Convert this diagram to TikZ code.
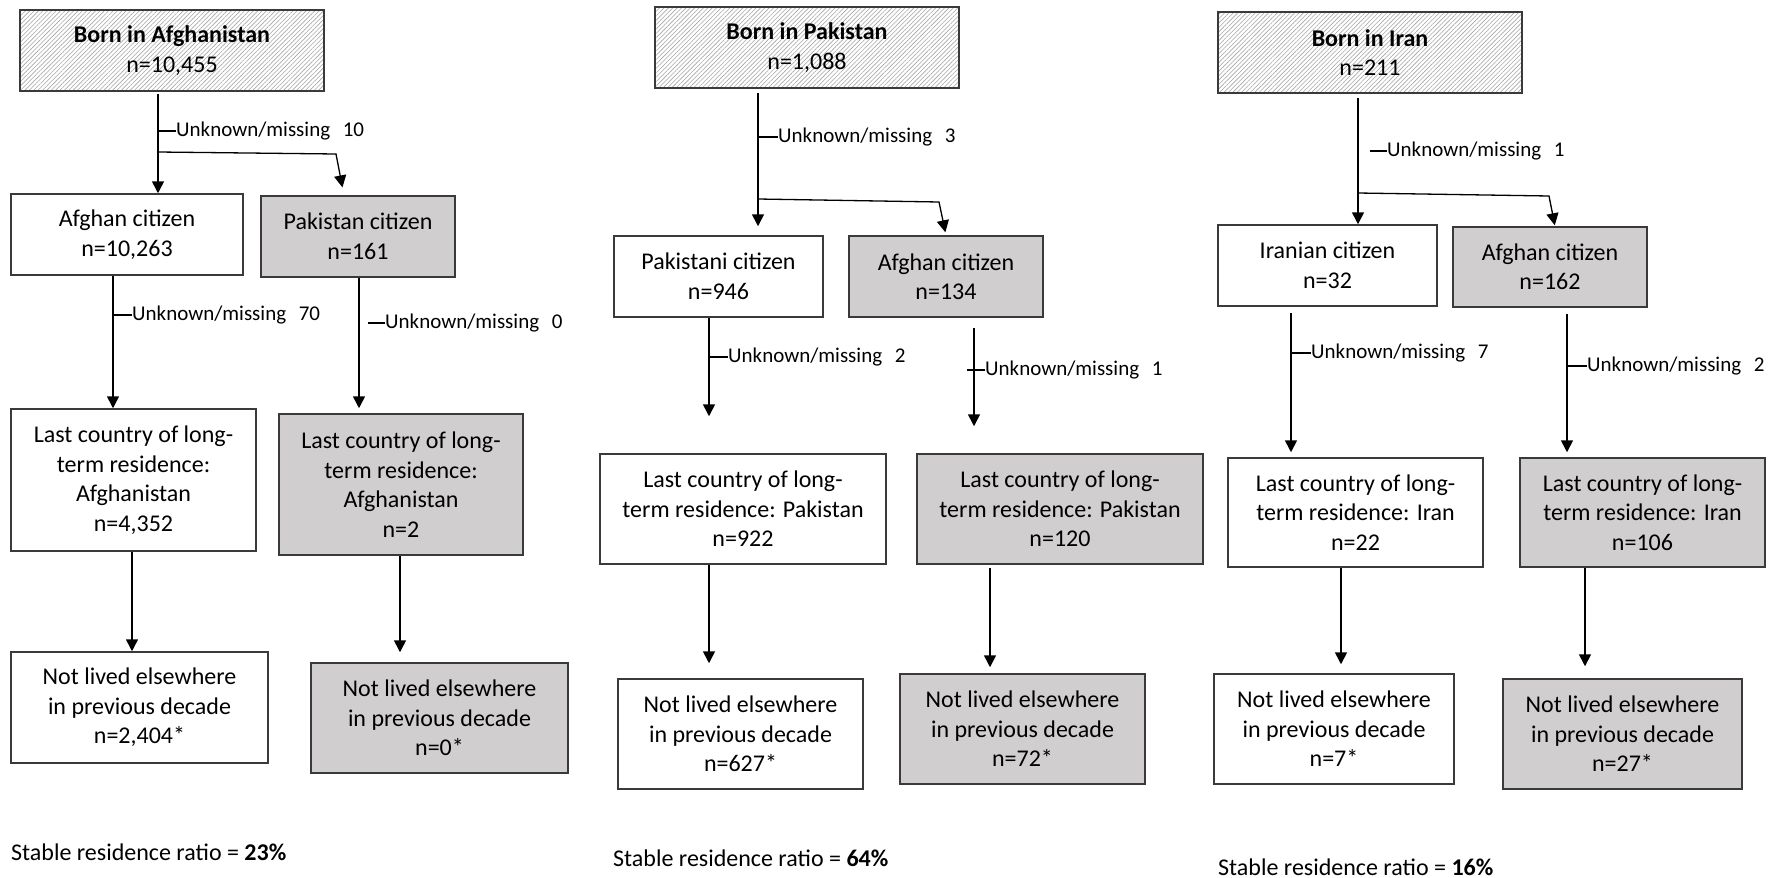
\documentclass[tikz,border=0pt]{standalone}
\usepackage{fontspec}
\setmainfont{Carlito}
\usetikzlibrary{arrows.meta,patterns.meta}
\definecolor{boxgray}{HTML}{D0CECE}
\definecolor{edge}{HTML}{3A3A3A}
\definecolor{hatch}{HTML}{A6A6A6}
\newcommand{\um}[1]{Unknown/missing\hspace{0.6em}#1}
\begin{document}
\begin{tikzpicture}[x=1pt,y=-1pt,
  box/.style={draw=edge, line width=1.5pt, fill=white, inner sep=0pt, align=center,
    font=\fontsize{24}{29.5}\selectfont},
  shaded/.style={box, fill=boxgray},
  origin/.style={draw=edge, line width=1.5pt, inner sep=0pt, align=center,
    pattern={Lines[angle=45,distance=3.1pt,line width=0.6pt]}, pattern color=hatch,
    font=\fontsize{24}{29.5}\selectfont},
  arr/.style={-{Triangle[length=12pt,width=12pt]}, line width=1.6pt, black},
  branch/.style={line width=1.3pt},
  tick/.style={line width=1.3pt, black},
  lab/.style={anchor=west, inner sep=0pt, font=\fontsize{21}{25}\selectfont},
  ratio/.style={anchor=west, inner sep=0pt, font=\fontsize{24}{29}\selectfont}]
\useasboundingbox (0,0) rectangle (1773,878);

% ---------------- Born in Afghanistan ----------------
\node[origin, minimum width=304pt, minimum height=81pt] (bA) at (172,50.5)
  {\textbf{Born in Afghanistan}\\n=10,455};
\node[box, minimum width=232pt, minimum height=81pt] (cA1) at (127,234.5)
  {Afghan citizen\\n=10,263};
\node[shaded, minimum width=194pt, minimum height=81pt] (cA2) at (358,236.5)
  {Pakistan citizen\\n=161};
\node[box, minimum width=245pt, minimum height=142pt] (lA1) at (133.5,480)
  {Last country of long-\\term residence:\\Afghanistan\\n=4,352};
\node[shaded, minimum width=244pt, minimum height=141pt] (lA2) at (401,484.5)
  {Last country of long-\\term residence:\\Afghanistan\\n=2};
\node[box, minimum width=257pt, minimum height=111pt] (nA1) at (139.5,707.5)
  {Not lived elsewhere\\in previous decade\\n=2,404*};
\node[shaded, minimum width=257pt, minimum height=110pt] (nA2) at (439.5,718)
  {Not lived elsewhere\\in previous decade\\n=0*};
\node[ratio] (sA) at (11,852) {Stable residence ratio = \textbf{23\%}};

\coordinate (xA0) at (158,0);
\coordinate (xA1) at (113,0);
\coordinate (xA2) at (359,0);
\coordinate (xA3) at (132,0);
\coordinate (xA4) at (400,0);
\coordinate (xAb) at (344,0);
\coordinate (brA) at (158,152);
\coordinate (knA) at (336,154);

\draw[arr, shorten <=3pt] (bA.south -| xA0) -- (cA1.north -| xA0);
\node[lab] (uA0) at (176,131) {\um{10}};
\draw[tick] (uA0.west -| xA0) -- (uA0.west);
\draw[arr, branch, shorten >=8pt] (brA) -- (knA) -- (cA2.north -| xAb);

\draw[arr] (cA1.south -| xA1) -- (lA1.north -| xA1);
\node[lab] (uA1) at (132,315) {\um{70}};
\draw[tick] (uA1.west -| xA1) -- (uA1.west);

\draw[arr, shorten >=5pt] (cA2.south -| xA2) -- (lA2.north -| xA2);
\node[lab] (uA2) at (385,323) {\um{0}};
\draw[tick] (uA2.west) -- ++(-17,0);

\draw[arr] (lA1.south -| xA3) -- (nA1.north -| xA3);
\draw[arr, shorten >=10pt] (lA2.south -| xA4) -- (nA2.north -| xA4);

% ---------------- Born in Pakistan ----------------
\node[origin, minimum width=304pt, minimum height=81pt] (bP) at (807,47.5)
  {\textbf{Born in Pakistan}\\n=1,088};
\node[box, minimum width=209pt, minimum height=81pt] (cP1) at (718.5,276.5)
  {Pakistani citizen\\n=946};
\node[shaded, minimum width=194pt, minimum height=81pt] (cP2) at (946,276.5)
  {Afghan citizen\\n=134};
\node[box, minimum width=286pt, minimum height=110pt] (lP1) at (743,509)
  {Last country of long-\\term residence: Pakistan\\n=922};
\node[shaded, minimum width=286pt, minimum height=110pt] (lP2) at (1060,509)
  {Last country of long-\\term residence: Pakistan\\n=120};
\node[box, minimum width=245pt, minimum height=110pt] (nP1) at (740.5,734)
  {Not lived elsewhere\\in previous decade\\n=627*};
\node[shaded, minimum width=245pt, minimum height=110pt] (nP2) at (1022.5,729)
  {Not lived elsewhere\\in previous decade\\n=72*};
\node[ratio] (sP) at (613,858) {Stable residence ratio = \textbf{64\%}};

\coordinate (xP0) at (758,0);
\coordinate (xP1) at (709,0);
\coordinate (xP2) at (974,0);
\coordinate (xP4) at (990,0);
\coordinate (xPb) at (946,0);
\coordinate (brP) at (758,199);
\coordinate (knP) at (939,202);

\draw[arr, shorten <=4pt, shorten >=9pt] (bP.south -| xP0) -- (cP1.north -| xP0);
\node[lab] (uP0) at (778,137) {\um{3}};
\draw[tick] (uP0.west -| xP0) -- (uP0.west);
\draw[arr, branch, shorten >=3pt] (brP) -- (knP) -- (cP2.north -| xPb);

\draw[arr, shorten >=37pt] (cP1.south -| xP1) -- (lP1.north -| xP1);
\node[lab] (uP1) at (728,357) {\um{2}};
\draw[tick] (uP1.west -| xP1) -- (uP1.west);

\draw[arr, shorten <=10pt, shorten >=27pt] (cP2.south -| xP2) -- (lP2.north -| xP2);
\node[lab] (uP2) at (985,370) {\um{1}};
\draw[tick] (uP2.west) -- ++(-18,0);

\draw[arr, shorten >=15pt] (lP1.south -| xP1) -- (nP1.north -| xP1);
\draw[arr, shorten <=3pt, shorten >=6pt] (lP2.south -| xP4) -- (nP2.north -| xP4);

% ---------------- Born in Iran ----------------
\node[origin, minimum width=304pt, minimum height=81pt] (bI) at (1370,52.5)
  {\textbf{Born in Iran}\\n=211};
\node[box, minimum width=219pt, minimum height=81pt] (cI1) at (1327.5,265.5)
  {Iranian citizen\\n=32};
\node[shaded, minimum width=194pt, minimum height=80pt] (cI2) at (1550,267)
  {Afghan citizen\\n=162};
\node[box, minimum width=255pt, minimum height=109pt] (lI1) at (1355.5,512.5)
  {Last country of long-\\term residence: Iran\\n=22};
\node[shaded, minimum width=245pt, minimum height=109pt] (lI2) at (1642.5,512.5)
  {Last country of long-\\term residence: Iran\\n=106};
\node[box, minimum width=240pt, minimum height=110pt] (nI1) at (1334,729)
  {Not lived elsewhere\\in previous decade\\n=7*};
\node[shaded, minimum width=239pt, minimum height=110pt] (nI2) at (1622.5,734)
  {Not lived elsewhere\\in previous decade\\n=27*};
\node[ratio] (sI) at (1218,867) {Stable residence ratio = \textbf{16\%}};

\coordinate (xI0) at (1358,0);
\coordinate (xI1) at (1291,0);
\coordinate (xI2) at (1567,0);
\coordinate (xI3) at (1341,0);
\coordinate (xI4) at (1585,0);
\coordinate (xIb) at (1555,0);
\coordinate (brI) at (1358,193);
\coordinate (knI) at (1549,196);

\draw[arr, shorten <=4pt] (bI.south -| xI0) -- (cI1.north -| xI0);
\node[lab] (uI0) at (1387,151) {\um{1}};
\draw[tick] (uI0.west) -- ++(-17,0);
\draw[arr, branch, shorten >=1pt] (brI) -- (knI) -- (cI2.north -| xIb);

\draw[arr, shorten <=6pt, shorten >=5pt] (cI1.south -| xI1) -- (lI1.north -| xI1);
\node[lab] (uI1) at (1311,353) {\um{7}};
\draw[tick] (uI1.west -| xI1) -- (uI1.west);

\draw[arr, shorten <=6pt, shorten >=5pt] (cI2.south -| xI2) -- (lI2.north -| xI2);
\node[lab] (uI2) at (1587,366) {\um{2}};
\draw[tick] (uI2.west -| xI2) -- (uI2.west);

\draw[arr, shorten >=9pt] (lI1.south -| xI3) -- (nI1.north -| xI3);
\draw[arr, shorten >=12pt] (lI2.south -| xI4) -- (nI2.north -| xI4);
\end{tikzpicture}
\end{document}
